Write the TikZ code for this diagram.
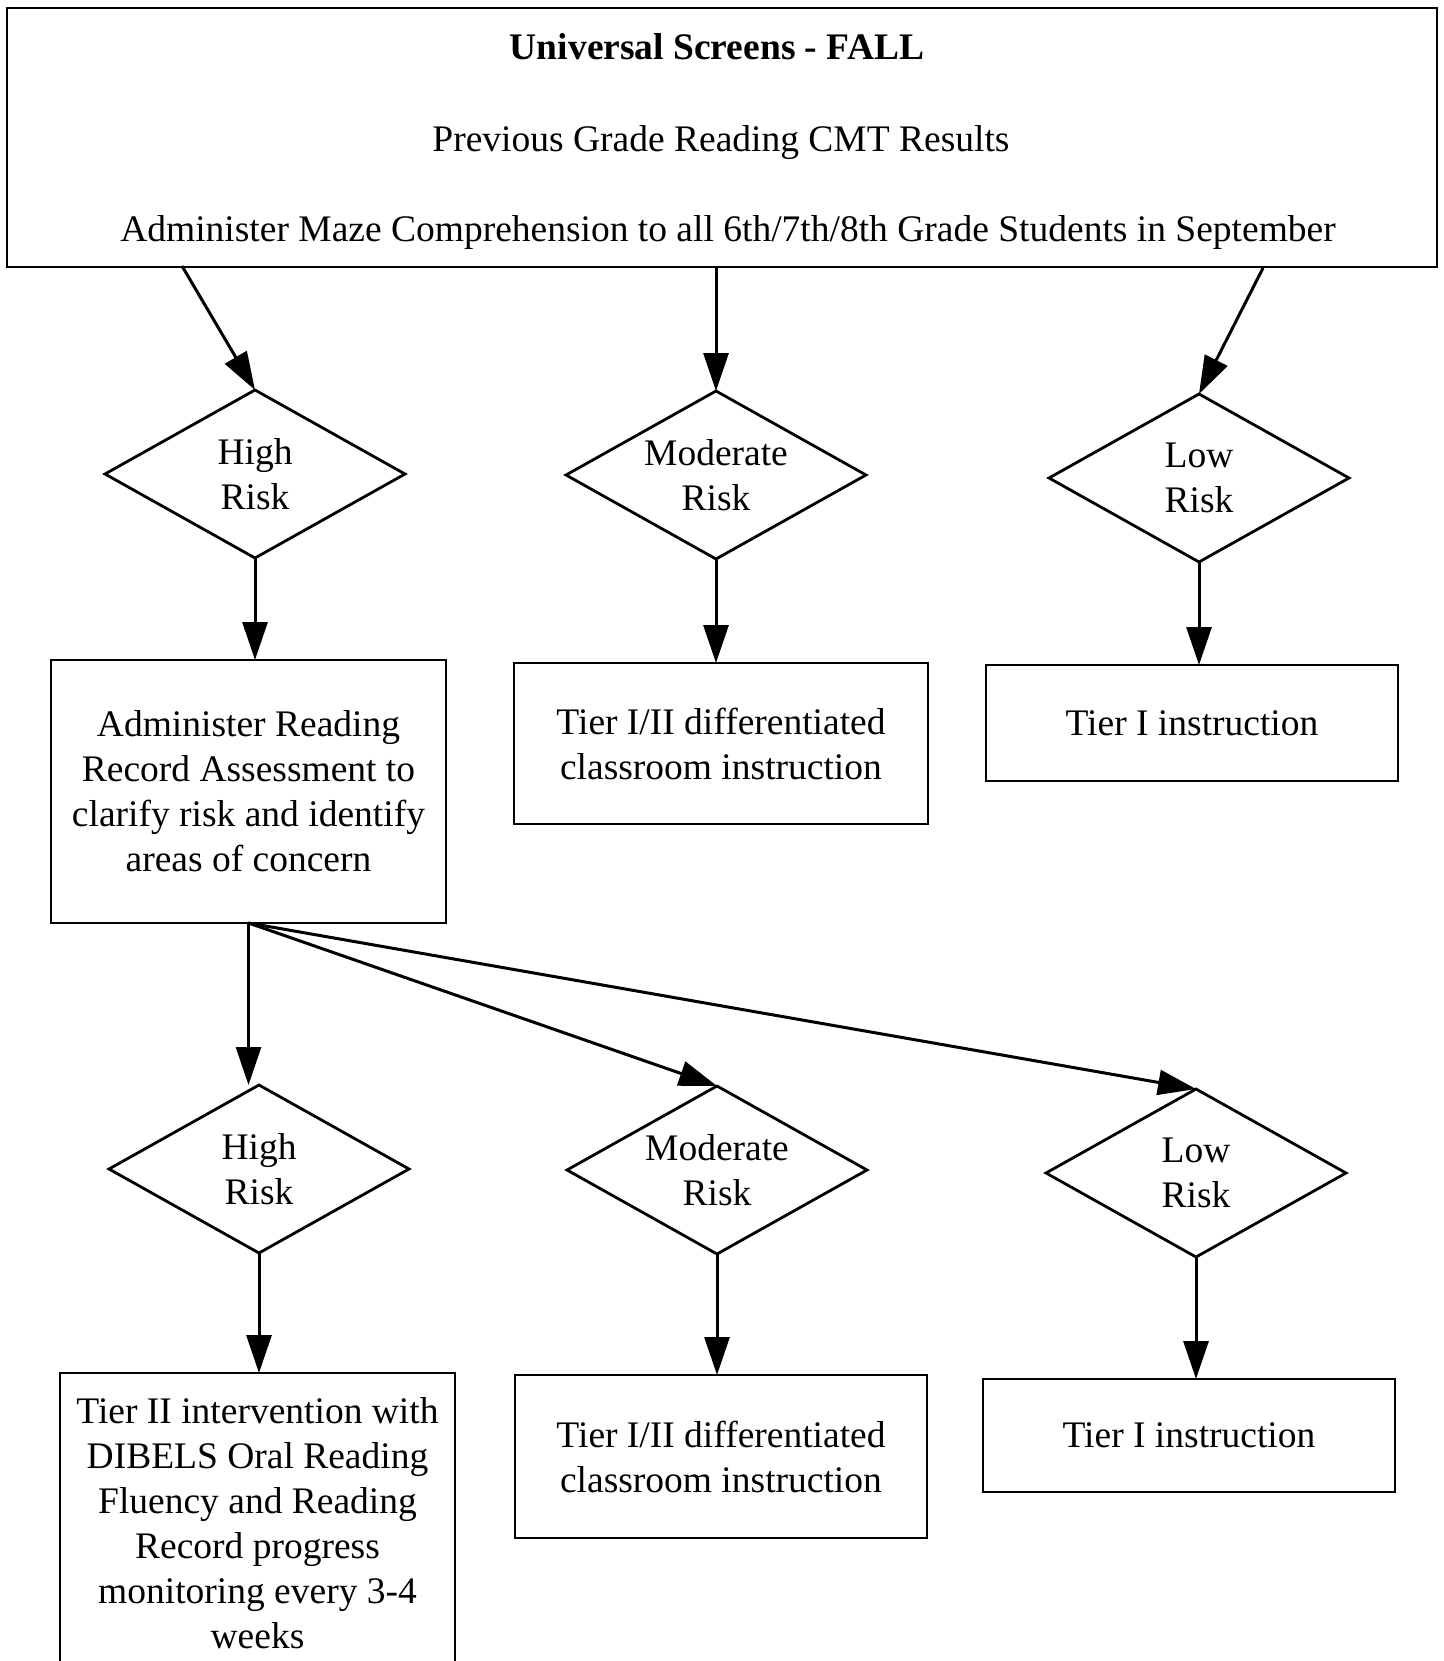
\documentclass[tikz,border=0pt]{standalone}
\usepackage{fontspec}
\setmainfont{Liberation Serif}
\usetikzlibrary{shapes.geometric,arrows.meta}
\newcommand{\fsz}{\fontsize{37.5}{45}\selectfont}
\begin{document}
\begin{tikzpicture}[x=1pt,y=-1pt,
  every node/.style={font=\fsz, inner sep=0pt, outer sep=0pt},
  box/.style={draw, line width=2.8pt, rectangle},
  dia/.style={draw, line width=2.8pt, diamond, aspect=1.79, minimum width=300pt, minimum height=168pt, align=center},
  txt/.style={align=center},
  arr/.style={line width=3pt, -{Triangle[length=38pt,width=25pt]}}]
\useasboundingbox (0,0) rectangle (1443,1661);

% top box
\node[box, minimum width=1430pt, minimum height=259pt] (top) at (722,137.5) {};
\node[anchor=base, font=\fsz\bfseries] (title) at (717,60) {Universal Screens - FALL};
\node[anchor=base] (prev) at (721,152) {Previous Grade Reading CMT Results};
\node[anchor=base] (maze) at (728,242) {Administer Maze Comprehension to all 6th/7th/8th Grade Students in September};

% first row of diamonds
\node[dia] (hr1) at (255,474) {High\\Risk};
\node[dia] (mr1) at (716,475) {Moderate\\Risk};
\node[dia] (lr1) at (1199,478) {Low\\Risk};

% first row of boxes
\node[box, txt, minimum width=395pt, minimum height=263pt] (b1) at (248.5,791.5)
  {Administer Reading\\Record Assessment to\\clarify risk and identify\\areas of concern};
\node[box, txt, minimum width=414pt, minimum height=161pt] (b2) at (721,743.5)
  {Tier I/II differentiated\\classroom instruction};
\node[box, txt, minimum width=412pt, minimum height=116pt] (b3) at (1192,723)
  {Tier I instruction};

% second row of diamonds
\node[dia] (hr2) at (259,1169) {High\\Risk};
\node[dia] (mr2) at (717,1170) {Moderate\\Risk};
\node[dia] (lr2) at (1196,1173) {Low\\Risk};

% second row of boxes
\node[box, minimum width=395pt, minimum height=330pt, anchor=north] (c1) at (257.5,1373) {};
\node[txt] (c1t) at (257.5,1522.7)
  {Tier II intervention with\\DIBELS Oral Reading\\Fluency and Reading\\Record progress\\monitoring every 3-4\\weeks};
\node[box, txt, minimum width=412pt, minimum height=163pt] (c2) at (721,1456.5)
  {Tier I/II differentiated\\classroom instruction};
\node[box, txt, minimum width=412pt, minimum height=113pt] (c3) at (1189,1435.5)
  {Tier I instruction};

% connectors from top box
\coordinate (s1) at (182,266);
\coordinate (s3) at (1263,268);
\draw[arr] (s1) -- (hr1.north);
\draw[arr] (mr1.north |- top.south) -- (mr1.north);
\draw[arr] (s3) -- (lr1.north);

% diamonds to boxes, row 1
\draw[arr] (hr1.south) -- (hr1.south |- b1.north);
\draw[arr] (mr1.south) -- (mr1.south |- b2.north);
\draw[arr] (lr1.south) -- (lr1.south |- b3.north);

% from assessment box to second row diamonds
\draw[arr] (b1.south) -- (b1.south |- hr2.north);
\draw[arr] (b1.south) -- (mr2.north);
\draw[arr] (b1.south) -- (lr2.north);

% diamonds to boxes, row 2
\draw[arr] (hr2.south) -- (hr2.south |- c1.north);
\draw[arr] (mr2.south) -- (mr2.south |- c2.north);
\draw[arr] (lr2.south) -- (lr2.south |- c3.north);
\end{tikzpicture}
\end{document}
